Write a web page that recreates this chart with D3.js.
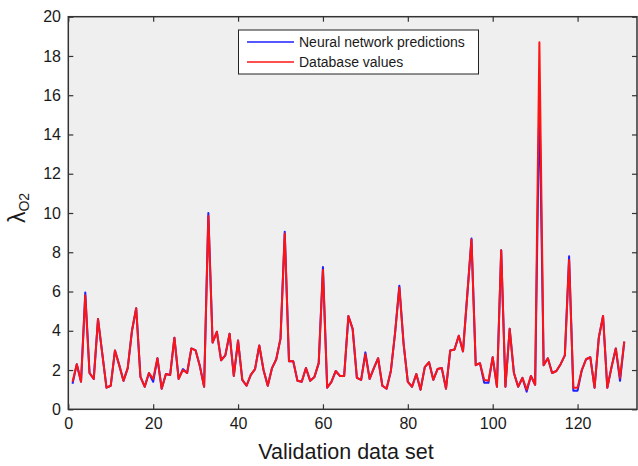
<!DOCTYPE html>
<html>
<head>
<meta charset="utf-8">
<script src="https://cdn.jsdelivr.net/npm/d3@7"></script>
<style>
  body { margin: 0; background: #ffffff; }
  svg { display: block; }
  text { font-family: "Liberation Sans", Arial, Helvetica, sans-serif; fill: #1a1a1a; }
</style>
</head>
<body>
<svg id="chart" width="638" height="466"></svg>
<script>
// Sample number of each validation case
const sampleIndex = d3.range(1, 132);

// Oxygen lambda values from the database (cases 1..131)
const databaseValues = [
  1.4, 2.3, 1.4, 5.8, 1.85, 1.55, 4.6, 2.85, 1.1, 1.2,
  3.0, 2.25, 1.45, 2.1, 4.0, 5.15, 1.65, 1.15, 1.85, 1.55,
  2.6, 1.05, 1.8, 1.75, 3.65, 1.55, 2.0, 1.85, 3.1, 3.0,
  2.2, 1.15, 9.85, 3.4, 3.95, 2.5, 2.75, 3.85, 1.7, 3.5,
  1.5, 1.2, 1.75, 2.05, 3.25, 2.0, 1.2, 2.1, 2.55, 3.6,
  8.95, 2.45, 2.45, 1.45, 1.4, 2.1, 1.45, 1.65, 2.35, 7.1,
  1.1, 1.4, 1.95, 1.7, 1.7, 4.75, 4.1, 1.6, 1.5, 2.8,
  1.55, 2.1, 2.6, 1.2, 1.05, 1.95, 3.9, 6.2, 3.35, 1.4,
  1.15, 1.8, 1.0, 2.15, 2.4, 1.5, 2.05, 2.1, 1.05, 3.0,
  3.05, 3.75, 2.95, 5.8, 8.65, 2.25, 2.35, 1.5, 1.45, 2.65,
  1.15, 8.1, 1.15, 4.1, 1.85, 1.15, 1.6, 1.0, 1.7, 1.25,
  18.7, 2.25, 2.6, 1.85, 1.95, 2.3, 2.75, 7.6, 1.1, 1.1,
  2.0, 2.55, 2.65, 1.1, 3.65, 4.75, 1.1, 2.15, 3.1, 1.6,
  3.45
];

// Values predicted by the neural network for the same cases
const networkPredictions = [
  1.3, 2.3, 1.4, 5.95, 1.85, 1.55, 4.6, 2.85, 1.1, 1.2,
  3.0, 2.25, 1.45, 2.1, 4.0, 5.15, 1.65, 1.15, 1.85, 1.4,
  2.6, 1.05, 1.8, 1.75, 3.65, 1.55, 2.05, 1.85, 3.1, 3.0,
  2.2, 1.15, 10.0, 3.4, 3.95, 2.5, 2.75, 3.85, 1.7, 3.5,
  1.5, 1.2, 1.75, 2.05, 3.25, 2.0, 1.2, 2.1, 2.55, 3.6,
  9.05, 2.45, 2.45, 1.45, 1.4, 2.1, 1.45, 1.65, 2.35, 7.25,
  1.1, 1.4, 1.95, 1.7, 1.7, 4.75, 4.1, 1.6, 1.5, 2.9,
  1.55, 2.1, 2.6, 1.2, 1.05, 1.95, 3.9, 6.3, 3.35, 1.4,
  1.15, 1.8, 1.0, 2.15, 2.4, 1.5, 2.05, 2.1, 1.05, 3.0,
  3.05, 3.75, 2.95, 5.8, 8.7, 2.25, 2.35, 1.35, 1.35, 2.65,
  1.15, 8.1, 1.15, 4.1, 1.85, 1.15, 1.6, 0.9, 1.7, 1.25,
  15.8, 2.25, 2.6, 1.85, 1.95, 2.3, 2.75, 7.8, 0.95, 0.95,
  2.0, 2.55, 2.65, 1.1, 3.65, 4.75, 1.1, 2.15, 3.1, 1.45,
  3.45
];

const xTicks = [0, 20, 40, 60, 80, 100, 120];
const yTicks = [0, 2, 4, 6, 8, 10, 12, 14, 16, 18, 20];
const seriesNames = ["Neural network predictions", "Database values"];
const seriesColors = ["#1f1fff", "#ff1414"];
const xLabel = "Validation data set";

const svg = d3.select("#chart");
const plot = { left: 68.3, right: 637, top: 16.7, bottom: 409.3 };

const x = d3.scaleLinear().domain([0, 134]).range([plot.left, plot.right]);
const y = d3.scaleLinear().domain([0, 20]).range([plot.bottom, plot.top]);

// Plot background
svg.append("rect")
  .attr("x", plot.left).attr("y", plot.top)
  .attr("width", plot.right - plot.left).attr("height", plot.bottom - plot.top)
  .attr("fill", "#efefef");

// Series lines: predictions first, database values drawn over them
const line = d3.line().x((d, i) => x(sampleIndex[i])).y(d => y(d));
[networkPredictions, databaseValues].forEach((vals, k) => {
  svg.append("path")
    .datum(vals)
    .attr("d", line)
    .attr("fill", "none")
    .attr("stroke", seriesColors[k])
    .attr("stroke-width", 2)
    .attr("stroke-linejoin", "round");
});

// Axes with inward ticks on all four sides
function styleAxis(g) {
  g.select(".domain").remove();
  g.selectAll(".tick line").attr("stroke", "#333").attr("stroke-width", 1.2);
  g.selectAll(".tick text").attr("font-size", 16).attr("fill", "#1a1a1a")
    .attr("font-family", "'Liberation Sans', Arial, sans-serif");
}

svg.append("g").attr("transform", `translate(0,${plot.bottom})`)
  .call(d3.axisBottom(x).tickValues(xTicks).tickSizeInner(-5).tickSizeOuter(0).tickPadding(8.5))
  .call(styleAxis);
svg.append("g").attr("transform", `translate(0,${plot.top})`)
  .call(d3.axisTop(x).tickValues(xTicks).tickSizeInner(-5).tickSizeOuter(0).tickFormat(""))
  .call(styleAxis);
svg.append("g").attr("transform", `translate(${plot.left},0)`)
  .call(d3.axisLeft(y).tickValues(yTicks).tickSizeInner(-5).tickSizeOuter(0).tickPadding(7.3))
  .call(styleAxis);
svg.append("g").attr("transform", `translate(${plot.right},0)`)
  .call(d3.axisRight(y).tickValues(yTicks).tickSizeInner(-5).tickSizeOuter(0).tickFormat(""))
  .call(styleAxis);

// Frame
svg.append("rect")
  .attr("x", plot.left).attr("y", plot.top)
  .attr("width", plot.right - plot.left).attr("height", plot.bottom - plot.top)
  .attr("fill", "none").attr("stroke", "#333").attr("stroke-width", 1.5);

// Axis titles
svg.append("text")
  .attr("x", 346).attr("y", 459)
  .attr("text-anchor", "middle")
  .attr("font-size", 21.5)
  .text(xLabel);

const yl = svg.append("text")
  .attr("transform", "translate(25,208) rotate(-90)")
  .attr("text-anchor", "middle")
  .attr("font-size", 23);
yl.append("tspan").text("λ");
yl.append("tspan").attr("font-size", 14).attr("dy", 4).text("O2");

// Legend
const legend = svg.append("g");
legend.append("rect")
  .attr("x", 238.5).attr("y", 30).attr("width", 240).attr("height", 44)
  .attr("fill", "#ffffff").attr("stroke", "#222").attr("stroke-width", 1);
seriesNames.forEach((name, k) => {
  const ly = 42 + k * 20;
  legend.append("line")
    .attr("x1", 247).attr("x2", 294).attr("y1", ly).attr("y2", ly)
    .attr("stroke", seriesColors[k]).attr("stroke-width", 1.5);
  legend.append("text")
    .attr("x", 299).attr("y", ly).attr("dy", "0.35em")
    .attr("font-size", 14)
    .text(name);
});
</script>
</body>
</html>
